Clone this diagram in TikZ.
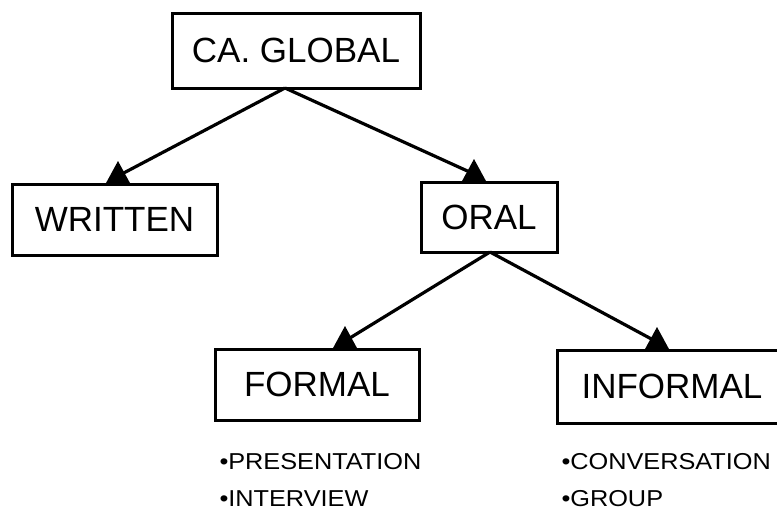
\documentclass[tikz,border=0pt]{standalone}
\usepackage{fontspec}
\setmainfont{Liberation Sans}
\newfontfamily\listfont[FakeStretch=1.1]{Liberation Sans}
\usepackage{tikz}
\usetikzlibrary{positioning}

\tikzset{
  uptip/.pic={\fill (-12.5,0) -- (0,-23) -- (12.5,0) -- cycle;},
  boxfont/.style={font=\fontsize{35}{42}\selectfont},
  itemfont/.style={font=\listfont\fontsize{23}{27}\selectfont}
}

\begin{document}
\begin{tikzpicture}[x=1pt, y=-1pt, line width=3pt]
   \clip (0,0) rectangle (777,520);
   \begin{scope}[every node/.style={draw,rectangle,inner sep=0pt,outer sep=0pt,boxfont}]
    \node (global) at (296,50.5) [minimum width=248pt, minimum height=75pt] {CA. GLOBAL};
    \node (written) at (114.5,219.5) [minimum width=205pt, minimum height=71pt] {WRITTEN};
    \node (oral) at (489,217) [minimum width=136pt, minimum height=70pt] {ORAL};
    \node (formal) at (317,384.5) [minimum width=204pt, minimum height=71pt] {FORMAL};
    \node (informal) at (672,386.5) [minimum width=230pt, minimum height=73pt] {INFORMAL};
   \end{scope}
   % where the lines leave and meet the boxes
   \coordinate (gsrc) at ([xshift=-11pt]global.south);
   \coordinate (osrc) at ([xshift=1pt]oral.south);
   \coordinate (wtip) at ([xshift=3.5pt]written.north);
   \coordinate (otip) at ([xshift=-15pt]oral.north);
   \coordinate (ftip) at ([xshift=28pt]formal.north);
   \coordinate (itip) at ([xshift=-15pt]informal.north);
   \begin{scope}[every edge/.style={draw=black,line width=3.2pt}]
    \draw (gsrc) edge ([yshift=8pt]wtip);
    \draw (gsrc) edge ([yshift=8pt]otip);
    \draw (osrc) edge ([yshift=8pt]ftip);
    \draw (osrc) edge ([yshift=8pt]itip);
   \end{scope}
   \pic at (wtip) {uptip};
   \pic at (otip) {uptip};
   \pic at (ftip) {uptip};
   \pic at (itip) {uptip};
   \begin{scope}[every node/.style={anchor=base west,inner sep=0pt,itemfont}]
    \node (pres) at (218,469) {•PRESENTATION};
    \node (inter) at (218,506) {•INTERVIEW};
    \node (conv) at (560,469) {•CONVERSATION};
    \node (group) at (560,506) {•GROUP};
   \end{scope}
\end{tikzpicture}
\end{document}
